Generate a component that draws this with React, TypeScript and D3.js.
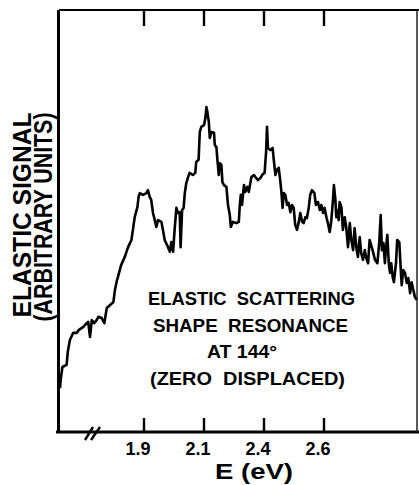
import React from "react";
import * as d3 from "d3";

// elastic signal vs electron energy
const energy = [
  1.620, 1.623, 1.628, 1.642, 1.646, 1.653, 1.664, 1.676, 1.683, 1.698,
  1.709, 1.714, 1.720, 1.726, 1.734, 1.742, 1.748, 1.759, 1.768, 1.772,
  1.776, 1.787, 1.798, 1.801, 1.803, 1.810, 1.813, 1.824, 1.836, 1.847,
  1.858, 1.863, 1.869, 1.878, 1.882, 1.886, 1.897, 1.908, 1.913, 1.919,
  1.924, 1.930, 1.936, 1.941, 1.947, 1.958, 1.963, 1.969, 1.980, 1.986,
  1.991, 1.997, 2.002, 2.008, 2.013, 2.019, 2.022, 2.027, 2.032, 2.036,
  2.041, 2.047, 2.052, 2.063, 2.071, 2.074, 2.082, 2.086, 2.091, 2.100,
  2.107, 2.112, 2.117, 2.124, 2.129, 2.137, 2.150, 2.154, 2.162, 2.167,
  2.174, 2.179, 2.187, 2.192, 2.200, 2.212, 2.220, 2.229, 2.234, 2.245,
  2.262, 2.274, 2.279, 2.284, 2.290, 2.295, 2.300, 2.307, 2.317, 2.324,
  2.337, 2.350, 2.357, 2.370, 2.382, 2.394, 2.402, 2.407, 2.410, 2.413,
  2.421, 2.429, 2.432, 2.438, 2.443, 2.449, 2.454, 2.458, 2.462, 2.466,
  2.471, 2.477, 2.482, 2.488, 2.493, 2.499, 2.504, 2.510, 2.516, 2.521,
  2.527, 2.532, 2.538, 2.543, 2.549, 2.554, 2.560, 2.568, 2.573, 2.580,
  2.586, 2.591, 2.597, 2.602, 2.608, 2.613, 2.619, 2.624, 2.630, 2.633,
  2.638, 2.641, 2.644, 2.649, 2.652, 2.658, 2.663, 2.669, 2.674, 2.680,
  2.686, 2.691, 2.697, 2.702, 2.708, 2.713, 2.719, 2.724, 2.730, 2.736,
  2.741, 2.747, 2.752, 2.762, 2.770, 2.778, 2.784, 2.789, 2.793, 2.798,
  2.803, 2.807, 2.811, 2.816, 2.820, 2.824, 2.829, 2.833, 2.840, 2.844,
  2.851, 2.856, 2.859, 2.864, 2.870, 2.876, 2.881, 2.887, 2.892, 2.898,
  2.903, 2.909,
];

const signal = [
  10.4, 12.8, 15.4, 15.9, 19.0, 21.8, 23.5, 23.5, 24.2, 24.9,
  25.8, 26.1, 22.5, 26.5, 25.8, 26.5, 27.3, 27.0, 25.8, 27.7,
  29.4, 30.1, 30.8, 32.5, 33.6, 36.0, 36.7, 39.6, 41.5, 43.8,
  45.5, 47.9, 50.9, 53.3, 55.7, 56.6, 56.2, 56.6, 57.3, 55.7,
  55.0, 51.9, 50.2, 48.6, 50.2, 49.8, 47.9, 45.5, 43.8, 42.7,
  45.0, 42.7, 47.9, 53.1, 51.9, 52.1, 43.8, 52.6, 53.1, 56.6,
  59.0, 60.4, 61.4, 60.9, 61.4, 64.0, 64.5, 71.1, 72.3, 72.7,
  74.4, 77.0, 75.8, 73.5, 69.7, 71.1, 70.9, 68.0, 67.5, 64.5,
  60.9, 63.7, 63.3, 59.2, 58.5, 58.1, 53.8, 51.4, 48.6, 49.8,
  49.5, 49.8, 53.8, 56.2, 53.8, 56.2, 58.5, 56.9, 58.1, 56.9,
  60.4, 60.9, 60.4, 59.7, 60.2, 61.1, 61.4, 66.4, 72.3, 67.3,
  66.8, 67.3, 64.9, 60.9, 62.1, 62.6, 59.7, 56.9, 53.1, 56.6,
  56.2, 53.8, 54.3, 52.1, 53.8, 53.1, 49.1, 47.9, 49.8, 51.9,
  49.8, 49.5, 50.9, 50.7, 53.1, 56.2, 57.3, 56.6, 53.8, 54.5,
  52.6, 53.8, 51.9, 53.1, 50.9, 49.5, 47.4, 49.8, 55.0, 58.5,
  55.0, 50.9, 52.6, 50.2, 54.5, 53.3, 47.9, 50.9, 48.6, 43.8,
  49.5, 45.5, 43.1, 48.3, 43.6, 41.5, 46.2, 42.4, 40.8, 43.1,
  41.2, 40.0, 45.5, 43.1, 40.8, 40.0, 44.8, 51.4, 43.1, 44.8,
  40.0, 43.8, 46.7, 40.0, 37.7, 40.0, 36.7, 35.5, 40.0, 45.5,
  45.0, 38.4, 34.8, 38.4, 37.7, 35.3, 36.5, 32.9, 35.5, 33.6,
  32.0, 31.3,
];

// the axis labels are not evenly spaced in eV but the ticks are
const tickValues = [1.9, 2.1, 2.4, 2.6];
const tickLabels = ["1.9", "2.1", "2.4", "2.6"];
const breakAt = 1.73;

const noteLines = ["ELASTIC  SCATTERING", "SHAPE  RESONANCE", "AT 144°", "(ZERO  DISPLACED)"];
const yLabelLines = ["ELASTIC SIGNAL", "(ARBITRARY UNITS)"];
const xLabel = "E (eV)";

const width = 419;
const height = 485;
const margin = { top: 10, right: 2, bottom: 53, left: 59 };
const innerW = width - margin.left - margin.right;
const innerH = height - margin.top - margin.bottom;
const font = "'Liberation Sans', Arial, sans-serif";

// where the annotation lines sit (absolute svg coords)
const noteLayout = [
  { x: 148, y: 305, w: 207 },
  { x: 153, y: 332, w: 195 },
  { x: 207, y: 358, w: 70 },
  { x: 150, y: 385, w: 195 },
];

export default function App() {
  const tickStep = 60;
  const xScale = d3
    .scaleLinear()
    .domain(tickValues)
    .range(tickValues.map((_, i) => 85 + i * tickStep));

  const yScale = d3.scaleLinear().domain([0, 100]).range([innerH, 0]);

  const points: [number, number][] = energy.map((e, i) => [e, signal[i]]);
  const path = d3
    .line<[number, number]>()
    .x((d) => xScale(d[0]))
    .y((d) => yScale(d[1]))(points);

  const bx = xScale(breakAt);

  return (
    <svg
      width={width}
      height={height}
      style={{ position: "absolute", left: 0, top: 0, background: "#fff" }}
    >
      <g transform={`translate(${margin.left},${margin.top})`}>
        {/* frame */}
        <line x1={0} x2={innerW + 2} y1={0} y2={0} stroke="#000" strokeWidth={2.2} />
        <line x1={-0.5} x2={-0.5} y1={0} y2={innerH + 1} stroke="#000" strokeWidth={3} />
        <line x1={-3} x2={innerW + 2} y1={innerH} y2={innerH} stroke="#000" strokeWidth={3} />
        <line x1={innerW} x2={innerW} y1={0} y2={innerH} stroke="#222" strokeWidth={1.5} />

        {/* ticks top and bottom */}
        {tickValues.map((t, i) => (
          <g key={i}>
            <line x1={xScale(t)} x2={xScale(t)} y1={0} y2={16} stroke="#000" strokeWidth={2.4} />
            <line x1={xScale(t)} x2={xScale(t)} y1={innerH} y2={innerH - 14} stroke="#000" strokeWidth={2.4} />
            <text
              x={xScale(t) - 6}
              y={innerH + 23}
              textAnchor="middle"
              fontFamily={font}
              fontWeight="bold"
              fontSize={18}
            >
              {tickLabels[i]}
            </text>
          </g>
        ))}

        {/* axis break */}
        <line x1={bx - 8} x2={bx} y1={innerH + 8} y2={innerH - 5} stroke="#000" strokeWidth={2.4} />
        <line x1={bx - 2} x2={bx + 7} y1={innerH + 8} y2={innerH - 5} stroke="#000" strokeWidth={2.4} />

        {/* data */}
        <path d={path ?? ""} fill="none" stroke="#000" strokeWidth={2.6} strokeLinejoin="round" />
      </g>

      {/* annotation */}
      {noteLines.map((s, i) => (
        <text
          key={i}
          x={noteLayout[i].x}
          y={noteLayout[i].y}
          textLength={noteLayout[i].w}
          lengthAdjust="spacingAndGlyphs"
          fontFamily={font}
          fontWeight="bold"
          fontSize={18}
          style={{ whiteSpace: "pre" }}
        >
          {s}
        </text>
      ))}

      {/* y label */}
      {yLabelLines.map((s, i) => (
        <text
          key={i}
          transform={`translate(${31 + i * 21},${215 + i * 2}) rotate(-90)`}
          textAnchor="middle"
          textLength={i === 0 ? 205 : 209}
          lengthAdjust="spacingAndGlyphs"
          fontFamily={font}
          fontWeight="bold"
          fontSize={25}
        >
          {s}
        </text>
      ))}

      {/* x label */}
      <text
        x={254}
        y={479}
        textAnchor="middle"
        textLength={78}
        lengthAdjust="spacingAndGlyphs"
        fontFamily={font}
        fontWeight="bold"
        fontSize={22}
        style={{ whiteSpace: "pre" }}
      >
        {xLabel}
      </text>
    </svg>
  );
}
